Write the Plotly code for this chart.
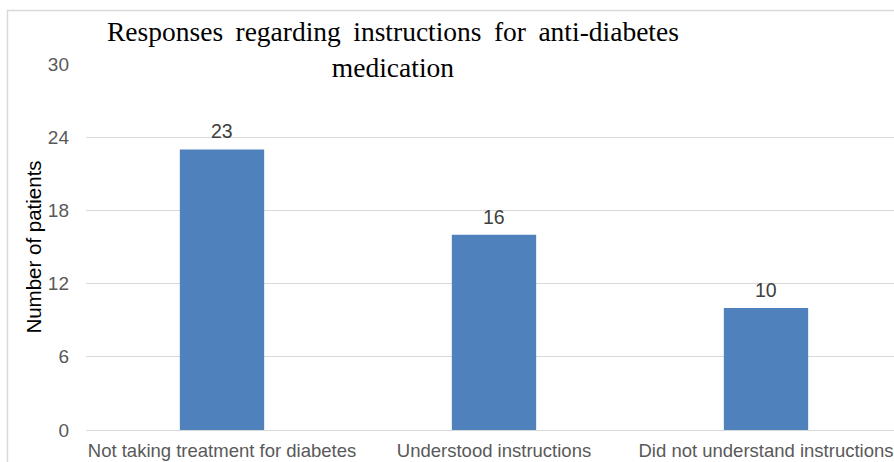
import plotly.graph_objects as go

# Survey responses about instructions given for anti-diabetes medication
categories = ["Not taking treatment for diabetes", "Understood instructions",
              "Did not understand instructions"]
patients = [23, 16, 10]
y_ticks = [0, 6, 12, 18, 24, 30]
chart_title = ["Responses regarding instructions for anti-diabetes", "medication"]

W, H = 894, 462
ML, MR, MT, MB = 86, 0, 64, 32
plot_w = W - ML - MR
plot_h = H - MT - MB
cat_px = 272  # horizontal space per category

def px_to_paper_x(px):
    return (px - ML) / plot_w

def px_to_paper_y(py):
    return 1 + (MT - py) / plot_h

xs = list(range(len(categories)))

fig = go.Figure()
fig.add_trace(go.Bar(
    x=xs,
    y=patients,
    width=0.31,
    marker=dict(color="#4f81bd", line=dict(width=0)),
    hoverinfo="skip",
))

# value labels above each bar
value_labels = [dict(
    x=x, y=v, xref="x", yref="y",
    text=str(v), showarrow=False,
    xanchor="center", yanchor="bottom", yshift=5,
    font=dict(family="Liberation Sans, Arial", size=19.5, color="#404040"),
) for x, v in zip(xs, patients)]

# justified-looking title: slightly wider gaps between words
title_text = "<br>".join(line.replace(" ", " \u2009") for line in chart_title)

fig.update_layout(
    width=W, height=H,
    margin=dict(l=ML, r=MR, t=MT, b=MB, pad=0),
    paper_bgcolor="white", plot_bgcolor="white",
    showlegend=False,
    font=dict(family="Liberation Sans, Arial"),
    xaxis=dict(
        range=[-0.5, -0.5 + plot_w / cat_px],
        tickmode="array",
        tickvals=xs,
        ticktext=categories,
        tickfont=dict(size=18.5, color="#595959"),
        showgrid=False, zeroline=False,
        showline=True, linecolor="#d9d9d9", linewidth=1.3,
        ticks="", ticklabelstandoff=4,
        fixedrange=True,
    ),
    yaxis=dict(
        range=[0, 30],
        tickmode="array",
        tickvals=y_ticks,
        tickfont=dict(size=19, color="#595959"),
        showgrid=True, gridcolor="#d9d9d9", gridwidth=1.3,
        zeroline=False, showline=False,
        ticks="", ticklabelstandoff=16,
        title=dict(text="Number of patients",
                   font=dict(size=20.5, color="#000000"), standoff=0),
        fixedrange=True,
    ),
    shapes=[dict(
        type="rect", xref="paper", yref="paper",
        x0=px_to_paper_x(7.5), x1=1.2,
        y0=-0.3, y1=px_to_paper_y(10.5),
        line=dict(color="#d9d9d9", width=1.5),
        fillcolor="rgba(0,0,0,0)", layer="below",
    )],
    annotations=value_labels + [dict(
        text=title_text,
        xref="paper", yref="paper",
        x=px_to_paper_x(393), y=px_to_paper_y(49),
        xanchor="center", yanchor="middle",
        showarrow=False, align="center",
        font=dict(family="Liberation Serif, Times New Roman", size=27.5,
                  color="#000000"),
    )],
)

fig.write_html("out.html")
